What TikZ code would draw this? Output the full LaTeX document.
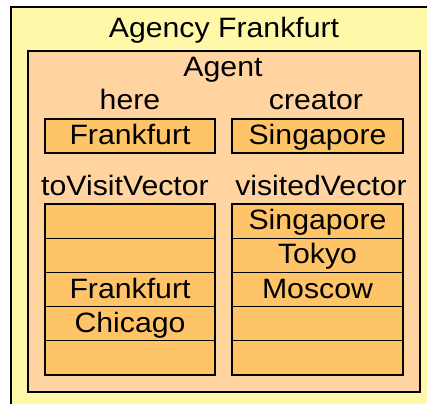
\documentclass[tikz,border=0pt]{standalone}
\usepackage{fontspec}
\setmainfont{Liberation Sans}
\definecolor{agencyY}{HTML}{FFF8A8}
\definecolor{agentP}{HTML}{FFD4A0}
\definecolor{cellO}{HTML}{FFC468}
\begin{document}
\begin{tikzpicture}[x=1pt,y=-1pt,
  lbl/.style={anchor=base,inner sep=0pt,font=\fontsize{28}{30}\selectfont},
  cellbox/.style={draw=black,line width=1.2pt,fill=cellO}]
\useasboundingbox (0,0) rectangle (427,403);
\clip (0,0) rectangle (427,403);
\fill[white] (0,0) rectangle (427,403);
% agency
\draw[fill=agencyY,line width=1.6pt] (11,7) rectangle (440,420);
\node[lbl] (agency) at (224,37.5) {\scalebox{1.08}[1]{Agency Frankfurt}};
% agent
\draw[fill=agentP,line width=1.2pt] (28,51) rectangle (420,392);
\node[lbl] (agent) at (223,76.5) {\scalebox{1.08}[1]{Agent}};
\node[lbl] (here) at (130,110) {\scalebox{1.08}[1]{here}};
\node[lbl] (creator) at (316,110) {\scalebox{1.08}[1]{creator}};
\draw[cellbox] (45,119) rectangle (215,153);
\draw[cellbox] (232,119) rectangle (403,153);
\node[lbl] (hereval) at (130,144.5) {\scalebox{1.08}[1]{Frankfurt}};
\node[lbl] (creatorval) at (317.5,144.5) {\scalebox{1.08}[1]{Singapore}};
\node[lbl] (tovisit) at (125,195.5) {\scalebox{1.08}[1]{toVisitVector}};
\node[lbl] (visited) at (321,195.5) {\scalebox{1.08}[1]{visitedVector}};
% vectors
\foreach \i in {0,...,4}{
  \draw[cellbox] (45,{204+34.2*\i}) rectangle (215,{204+34.2*(\i+1)});
  \draw[cellbox] (232,{204+34.2*\i}) rectangle (403,{204+34.2*(\i+1)});
}
\node[lbl] (l3) at (130,298) {\scalebox{1.08}[1]{Frankfurt}};
\node[lbl] (l4) at (130,332.5) {\scalebox{1.08}[1]{Chicago}};
\node[lbl] (r1) at (317.5,229.5) {\scalebox{1.08}[1]{Singapore}};
\node[lbl] (r2) at (317.5,263.5) {\scalebox{1.08}[1]{Tokyo}};
\node[lbl] (r3) at (317.5,298) {\scalebox{1.08}[1]{Moscow}};
\end{tikzpicture}
\end{document}
